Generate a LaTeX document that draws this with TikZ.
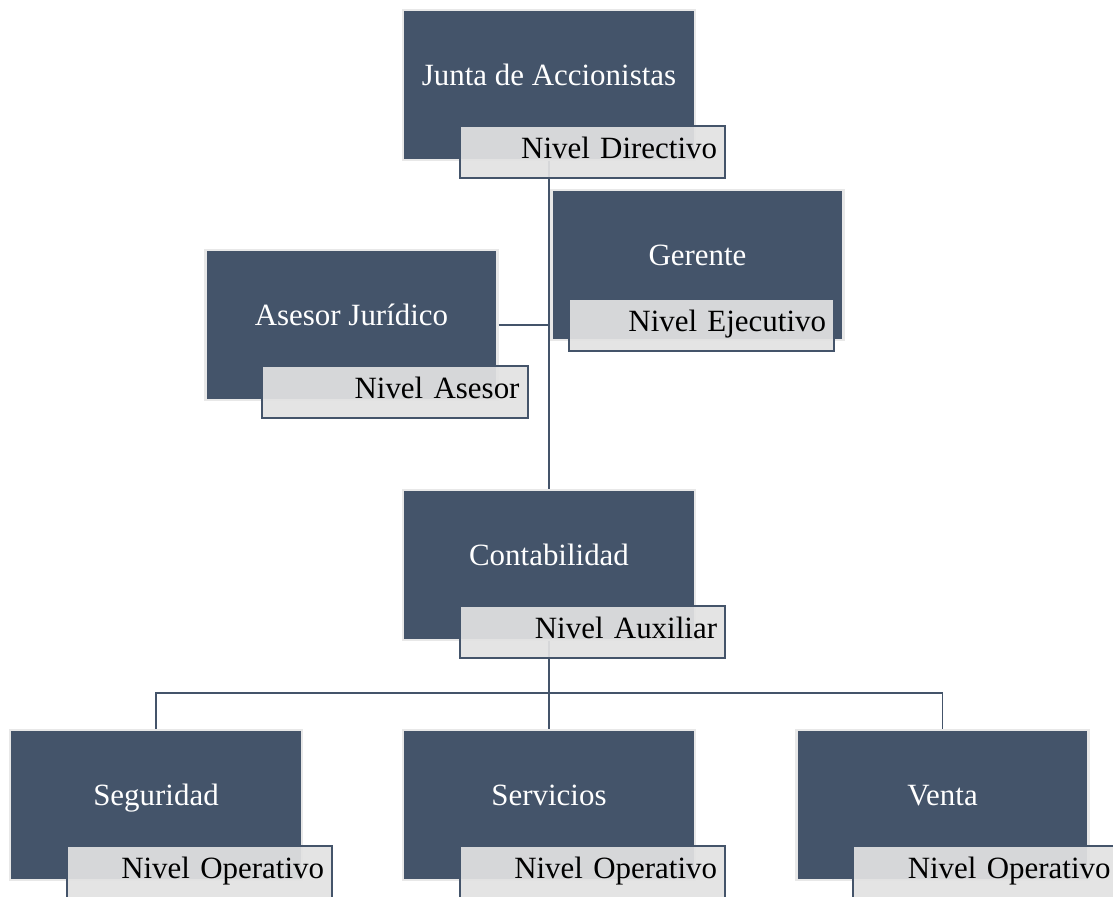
\documentclass[tikz,border=0pt]{standalone}
\usepackage{fontspec}
\setmainfont{Liberation Serif}
\usetikzlibrary{positioning, calc}
\definecolor{slate}{HTML}{44546A}
\definecolor{lvlgray}{HTML}{E2E2E2}
\definecolor{rim}{HTML}{E8E8E8}

\begin{document}
\begin{tikzpicture}[x=0.025cm, y=-0.025cm, font=\fontsize{22pt}{26pt}\selectfont,
  unit/.style={draw=rim, line width=1.5pt, fill=slate, text=white,
    minimum width=7.3cm, minimum height=3.75cm, inner sep=0pt,
    text height=0.7em, text depth=0.7em},
  lvl/.style={draw=slate, line width=1.4pt, fill=lvlgray, fill opacity=0.93,
    text opacity=1, text=black, text width=6.225cm, align=right,
    minimum height=1.3cm, inner xsep=0.2cm, inner ysep=0pt,
    text height=0.9em, text depth=0pt},
  link/.style={draw=slate, line width=1.4pt}]
\useasboundingbox (0,0) rectangle (1113,896);

% unidades
\node[unit] (junta) at (549,85) {Junta de Accionistas};
\node[unit] (gerente) at (697.5,265) {Gerente};
\node[unit] (asesor) at (351.5,325) {Asesor Jurídico};
\node[unit] (contab) at (549,565) {Contabilidad};
\node[unit] (seg) at (156,805) {Seguridad};
\node[unit] (serv) at (549,805) {Servicios};
\node[unit] (venta) at (942.5,805) {Venta};

% lineas
\coordinate (bus) at ($(contab.south)+(0,52)$);
\draw[link] (junta.south) -- (contab.north);
\draw[link] (asesor.east) -- (asesor.east -| junta.south);
\draw[link] (contab.south) -- (serv.north);
\draw[link] (seg.north) |- (bus) -| (venta.north);

% niveles
\node[lvl] (juntaLvl) at ($(junta.center)+(43.5,67)$) {Nivel Directivo};
\node[lvl] (gerenteLvl) at ($(gerente.center)+(4,60)$) {Nivel Ejecutivo};
\node[lvl] (asesorLvl) at ($(asesor.center)+(43.5,67)$) {Nivel Asesor};
\node[lvl] (contabLvl) at ($(contab.center)+(43.5,67)$) {Nivel Auxiliar};
\node[lvl] (segLvl) at ($(seg.center)+(43.5,67)$) {Nivel Operativo};
\node[lvl] (servLvl) at ($(serv.center)+(43.5,67)$) {Nivel Operativo};
\node[lvl] (ventaLvl) at ($(venta.center)+(43.5,67)$) {Nivel Operativo};
\end{tikzpicture}
\end{document}
